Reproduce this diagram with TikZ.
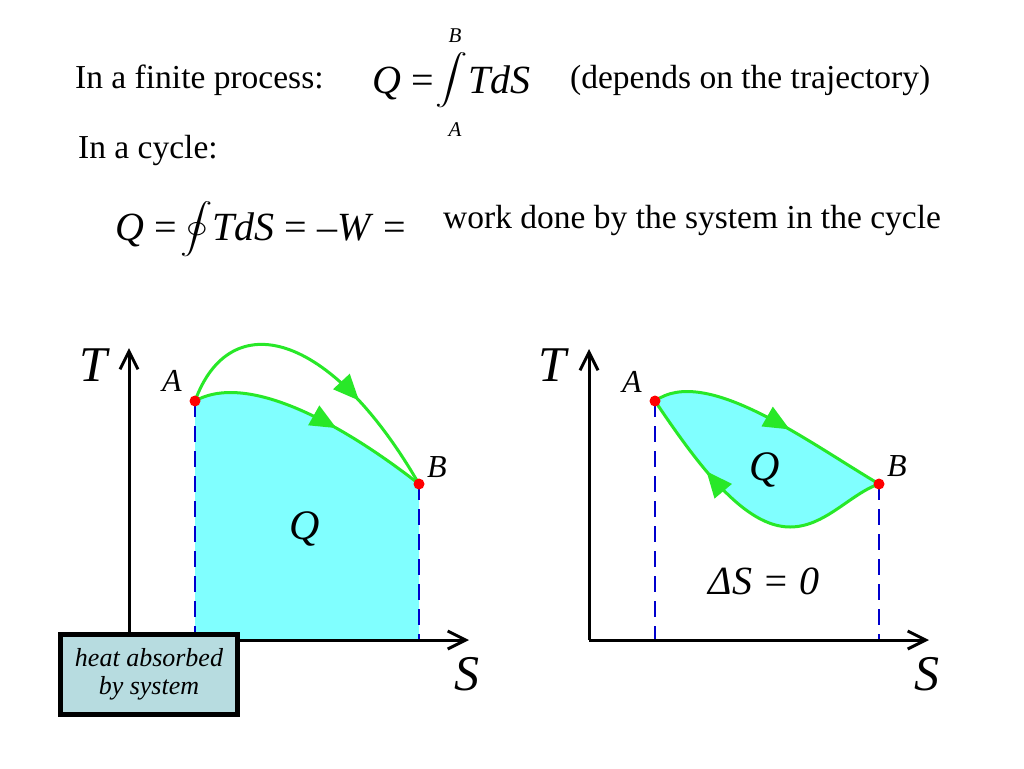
\documentclass[tikz,border=0pt]{standalone}
\usepackage{fontspec}
\setmainfont{Liberation Serif}
\usepackage{exscale}
\usetikzlibrary{arrows.meta,decorations.markings,positioning}
\definecolor{curvegreen}{RGB}{40,232,40}
\definecolor{areacyan}{RGB}{128,255,255}
\definecolor{dashblue}{RGB}{0,0,205}
\definecolor{boxgray}{RGB}{183,220,224}
\begin{document}
\begin{tikzpicture}[x=1pt,y=-1pt,
  axisline/.style={line width=3pt,-{Straight Barb[length=18pt,width=18pt]}},
  dropline/.style={dashblue,line width=2pt,dash pattern=on 16pt off 9pt},
  pathline/.style={curvegreen,line width=3pt},
  arrowat/.style={postaction={decorate},decoration={markings,
    mark=at position #1 with {\arrow{Triangle[length=26pt,width=22pt]}}}},
  statedot/.style={circle,fill=red,inner sep=0pt,minimum size=11pt},
  axislabel/.style={font=\fontsize{50}{50}\selectfont\itshape,inner sep=0pt},
  ptlabel/.style={font=\fontsize{32}{32}\selectfont\itshape,inner sep=0pt},
  heatlabel/.style={font=\fontsize{42}{42}\selectfont\itshape,inner sep=0pt},
  bodytext/.style={font=\fontsize{33.5}{36}\selectfont,anchor=base west,inner sep=0pt},
  eqtext/.style={font=\fontsize{40}{40}\selectfont,anchor=base west,inner sep=0pt},
  limtext/.style={font=\fontsize{21}{21}\selectfont\itshape,inner sep=0pt},
  bigint/.style={font=\fontsize{30}{30}\selectfont,inner sep=0pt,xscale=1.3,transform shape},
  notebox/.style={draw,line width=5pt,fill=boxgray,minimum width=177pt,minimum height=80pt,
    align=center,font=\fontsize{26}{28}\selectfont\itshape,inner sep=0pt}]
\useasboundingbox[fill=white] (0,0) rectangle (1024,768);

% header
\node[bodytext] (finite) at (75,88) {In a finite process:};
\node[eqtext] (Qone) at (372,93) {\textit{Q} =};
\node[bigint] (intone) at (452,80) {$\displaystyle\int$};
\node[limtext] (upB) at (455,36) {B};
\node[limtext] (lowA) at (455,130) {A};
\node[eqtext] (TdSone) at (468,93) {\textit{TdS}};
\node[bodytext] (depends) at (570,88) {(depends on the trajectory)};
\node[bodytext] (cycle) at (78,158) {In a cycle:};
\node[eqtext] (Qtwo) at (115,240) {\textit{Q} =};
\node[bigint] (inttwo) at (197,229) {$\displaystyle\oint$};
\node[eqtext] (TdStwo) at (212,240) {\textit{TdS} = –\textit{W} =};
\node[bodytext] (workdone) at (443,228) {work done by the system in the cycle};

% left T-S diagram
\coordinate (O1) at (129,640);
\coordinate (Ttop1) at (129,348);
\coordinate (Send1) at (469,640);
\coordinate (A1) at (195,401);
\coordinate (B1) at (419,484);
\fill[areacyan] (A1) .. controls (250,370) and (350,430) .. (B1) -- (B1 |- O1) -- (A1 |- O1) -- cycle;
\draw[dropline] (A1) -- (A1 |- O1);
\draw[dropline] (B1) -- (B1 |- O1);
\draw[axisline] (O1) -- (Ttop1);
\draw[axisline] (O1) -- (Send1);
\draw[pathline,arrowat=0.6] (A1) .. controls (250,370) and (350,430) .. (B1);
\draw[pathline,arrowat=0.67] (A1) .. controls (230,305) and (330,330) .. (B1);
\node[statedot] (dotA1) at (A1) {};
\node[statedot] (dotB1) at (B1) {};
\node[axislabel] (Tlab1) at (93,365) {T};
\node[axislabel] (Slab1) at (467,674) {S};
\node[ptlabel] (Alab1) at (172,381) {A};
\node[ptlabel] (Blab1) at (437,467) {B};
\node[heatlabel] (Qlab1) at (305,529) {Q};
\node[notebox] (heat) at (149,674.5) {heat absorbed\\by system};

% right T-S diagram (cycle)
\coordinate (O2) at (589,640);
\coordinate (Ttop2) at (589,349);
\coordinate (Send2) at (929,640);
\coordinate (A2) at (655,401);
\coordinate (B2) at (879,484);
\coordinate (M2) at (790,527);
\fill[areacyan] (A2) .. controls (705,365) and (805,440) .. (B2)
  .. controls (850,494) and (825,527) .. (M2) .. controls (745,527) and (700,468) .. (A2);
\draw[dropline] (A2) -- (A2 |- O2);
\draw[dropline] (B2) -- (B2 |- O2);
\draw[axisline] (O2) -- (Ttop2);
\draw[axisline] (O2) -- (Send2);
\draw[pathline,arrowat=0.58] (A2) .. controls (705,365) and (805,440) .. (B2);
\draw[pathline,arrowat=0.7] (B2) .. controls (850,494) and (825,527) .. (M2)
  .. controls (745,527) and (700,468) .. (A2);
\node[statedot] (dotA2) at (A2) {};
\node[statedot] (dotB2) at (B2) {};
\node[axislabel] (Tlab2) at (552,365) {T};
\node[axislabel] (Slab2) at (927,674) {S};
\node[ptlabel] (Alab2) at (632,382) {A};
\node[ptlabel] (Blab2) at (897,466) {B};
\node[heatlabel] (Qlab2) at (765,470) {Q};
\node[heatlabel,font=\fontsize{40}{40}\selectfont\itshape] (zeroS) at (764,581) {ΔS = 0};
\end{tikzpicture}
\end{document}
